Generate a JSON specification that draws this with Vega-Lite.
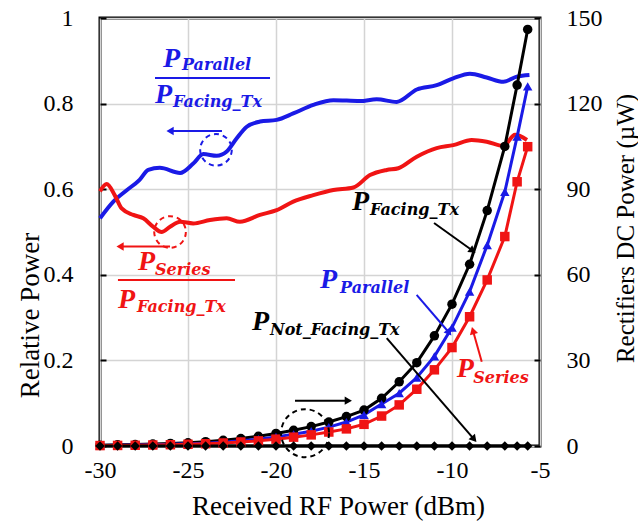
{
  "$schema": "https://vega.github.io/schema/vega-lite/v6.json",
  "width": 440,
  "height": 428,
  "autosize": {"type": "none"},
  "padding": {"left": 100, "top": 18, "right": 98, "bottom": 79},
  "background": "white",
  "config": {
    "view": {"stroke": "black", "strokeWidth": 3},
    "axis": {
      "labelFont": "serif",
      "titleFont": "serif",
      "labelFontSize": 24,
      "titleFontSize": 25,
      "titleFontWeight": "normal",
      "labelColor": "black",
      "titleColor": "black",
      "labelFlush": false,
      "domain": false,
      "gridColor": "#d4d4d4",
      "gridWidth": 1.5
    }
  },
  "datasets": {
    "rel": [
      {"x": -30, "r": 0.532, "s": "Parallel"},
      {"x": -29.24, "r": 0.571, "s": "Parallel"},
      {"x": -28.5, "r": 0.597, "s": "Parallel"},
      {"x": -27.75, "r": 0.622, "s": "Parallel"},
      {"x": -27.26, "r": 0.645, "s": "Parallel"},
      {"x": -26.6, "r": 0.65, "s": "Parallel"},
      {"x": -25.45, "r": 0.638, "s": "Parallel"},
      {"x": -24.7, "r": 0.66, "s": "Parallel"},
      {"x": -24.13, "r": 0.682, "s": "Parallel"},
      {"x": -23.37, "r": 0.678, "s": "Parallel"},
      {"x": -22.8, "r": 0.688, "s": "Parallel"},
      {"x": -22.23, "r": 0.719, "s": "Parallel"},
      {"x": -21.66, "r": 0.746, "s": "Parallel"},
      {"x": -20.91, "r": 0.758, "s": "Parallel"},
      {"x": -19.96, "r": 0.762, "s": "Parallel"},
      {"x": -19.02, "r": 0.777, "s": "Parallel"},
      {"x": -17.88, "r": 0.797, "s": "Parallel"},
      {"x": -16.74, "r": 0.808, "s": "Parallel"},
      {"x": -15.23, "r": 0.806, "s": "Parallel"},
      {"x": -14.28, "r": 0.81, "s": "Parallel"},
      {"x": -13.14, "r": 0.804, "s": "Parallel"},
      {"x": -12.0, "r": 0.833, "s": "Parallel"},
      {"x": -10.87, "r": 0.843, "s": "Parallel"},
      {"x": -9.93, "r": 0.859, "s": "Parallel"},
      {"x": -8.98, "r": 0.87, "s": "Parallel"},
      {"x": -8.03, "r": 0.861, "s": "Parallel"},
      {"x": -7.08, "r": 0.851, "s": "Parallel"},
      {"x": -6.32, "r": 0.863, "s": "Parallel"},
      {"x": -5.6, "r": 0.867, "s": "Parallel"},
      {"x": -30, "r": 0.595, "s": "Series"},
      {"x": -29.62, "r": 0.612, "s": "Series"},
      {"x": -29.15, "r": 0.585, "s": "Series"},
      {"x": -28.77, "r": 0.555, "s": "Series"},
      {"x": -28.11, "r": 0.54, "s": "Series"},
      {"x": -27.54, "r": 0.532, "s": "Series"},
      {"x": -26.97, "r": 0.512, "s": "Series"},
      {"x": -26.5, "r": 0.5, "s": "Series"},
      {"x": -26.02, "r": 0.512, "s": "Series"},
      {"x": -25.45, "r": 0.524, "s": "Series"},
      {"x": -24.7, "r": 0.52, "s": "Series"},
      {"x": -23.75, "r": 0.528, "s": "Series"},
      {"x": -22.8, "r": 0.532, "s": "Series"},
      {"x": -22.05, "r": 0.524, "s": "Series"},
      {"x": -20.91, "r": 0.54, "s": "Series"},
      {"x": -19.96, "r": 0.551, "s": "Series"},
      {"x": -19.02, "r": 0.571, "s": "Series"},
      {"x": -17.88, "r": 0.586, "s": "Series"},
      {"x": -16.74, "r": 0.598, "s": "Series"},
      {"x": -15.6, "r": 0.604, "s": "Series"},
      {"x": -14.66, "r": 0.633, "s": "Series"},
      {"x": -13.71, "r": 0.645, "s": "Series"},
      {"x": -13.05, "r": 0.649, "s": "Series"},
      {"x": -12.0, "r": 0.676, "s": "Series"},
      {"x": -10.87, "r": 0.696, "s": "Series"},
      {"x": -9.93, "r": 0.703, "s": "Series"},
      {"x": -8.88, "r": 0.715, "s": "Series"},
      {"x": -8.03, "r": 0.711, "s": "Series"},
      {"x": -7.08, "r": 0.701, "s": "Series"},
      {"x": -6.42, "r": 0.727, "s": "Series"},
      {"x": -5.74, "r": 0.715, "s": "Series"}
    ],
    "dc": [
      {"x": -30, "p": 0.3, "s": "Facing"}, {"x": -29, "p": 0.4, "s": "Facing"}, {"x": -28, "p": 0.5, "s": "Facing"},
      {"x": -27, "p": 0.7, "s": "Facing"}, {"x": -26, "p": 0.9, "s": "Facing"}, {"x": -25, "p": 1.1, "s": "Facing"},
      {"x": -24, "p": 1.5, "s": "Facing"}, {"x": -23, "p": 2.0, "s": "Facing"}, {"x": -22, "p": 2.6, "s": "Facing"},
      {"x": -21, "p": 3.4, "s": "Facing"}, {"x": -20, "p": 4.4, "s": "Facing"}, {"x": -19, "p": 5.5, "s": "Facing"},
      {"x": -18, "p": 6.8, "s": "Facing"}, {"x": -17, "p": 8.4, "s": "Facing"}, {"x": -16, "p": 10.3, "s": "Facing"},
      {"x": -15, "p": 12.6, "s": "Facing"}, {"x": -14, "p": 16.7, "s": "Facing"}, {"x": -13, "p": 22.5, "s": "Facing"},
      {"x": -12, "p": 29.2, "s": "Facing"}, {"x": -11, "p": 38.6, "s": "Facing"}, {"x": -10, "p": 49.7, "s": "Facing"},
      {"x": -9, "p": 63.7, "s": "Facing"}, {"x": -8, "p": 82.5, "s": "Facing"}, {"x": -7, "p": 105, "s": "Facing"},
      {"x": -6.3, "p": 126.5, "s": "Facing"}, {"x": -5.7, "p": 146, "s": "Facing"},
      {"x": -30, "p": 0.2, "s": "Parallel"}, {"x": -29, "p": 0.3, "s": "Parallel"}, {"x": -28, "p": 0.35, "s": "Parallel"},
      {"x": -27, "p": 0.45, "s": "Parallel"}, {"x": -26, "p": 0.6, "s": "Parallel"}, {"x": -25, "p": 0.75, "s": "Parallel"},
      {"x": -24, "p": 1.0, "s": "Parallel"}, {"x": -23, "p": 1.35, "s": "Parallel"}, {"x": -22, "p": 1.8, "s": "Parallel"},
      {"x": -21, "p": 2.4, "s": "Parallel"}, {"x": -20, "p": 3.2, "s": "Parallel"}, {"x": -19, "p": 4.1, "s": "Parallel"},
      {"x": -18, "p": 5.2, "s": "Parallel"}, {"x": -17, "p": 6.6, "s": "Parallel"}, {"x": -16, "p": 8.4, "s": "Parallel"},
      {"x": -15, "p": 10.9, "s": "Parallel"}, {"x": -14, "p": 14.7, "s": "Parallel"}, {"x": -13, "p": 18.5, "s": "Parallel"},
      {"x": -12, "p": 24.0, "s": "Parallel"}, {"x": -11, "p": 31.4, "s": "Parallel"}, {"x": -10, "p": 41.5, "s": "Parallel"},
      {"x": -9, "p": 54.1, "s": "Parallel"}, {"x": -8, "p": 70.4, "s": "Parallel"}, {"x": -7, "p": 89.1, "s": "Parallel"},
      {"x": -6.3, "p": 108.4, "s": "Parallel"}, {"x": -5.7, "p": 126, "s": "Parallel"},
      {"x": -30, "p": 0.15, "s": "Series"}, {"x": -29, "p": 0.2, "s": "Series"}, {"x": -28, "p": 0.25, "s": "Series"},
      {"x": -27, "p": 0.35, "s": "Series"}, {"x": -26, "p": 0.45, "s": "Series"}, {"x": -25, "p": 0.6, "s": "Series"},
      {"x": -24, "p": 0.8, "s": "Series"}, {"x": -23, "p": 1.05, "s": "Series"}, {"x": -22, "p": 1.4, "s": "Series"},
      {"x": -21, "p": 1.8, "s": "Series"}, {"x": -20, "p": 2.4, "s": "Series"}, {"x": -19, "p": 3.1, "s": "Series"},
      {"x": -18, "p": 3.9, "s": "Series"}, {"x": -17, "p": 4.9, "s": "Series"}, {"x": -16, "p": 6.0, "s": "Series"},
      {"x": -15, "p": 7.6, "s": "Series"}, {"x": -14, "p": 10.5, "s": "Series"}, {"x": -13, "p": 14.4, "s": "Series"},
      {"x": -12, "p": 19.9, "s": "Series"}, {"x": -11, "p": 26.7, "s": "Series"}, {"x": -10, "p": 34.5, "s": "Series"},
      {"x": -9, "p": 45.3, "s": "Series"}, {"x": -8, "p": 58.2, "s": "Series"}, {"x": -7, "p": 73.4, "s": "Series"},
      {"x": -6.3, "p": 92.6, "s": "Series"}, {"x": -5.7, "p": 104.9, "s": "Series"},
      {"x": -30, "p": 0, "s": "NotFacing"}, {"x": -29, "p": 0, "s": "NotFacing"}, {"x": -28, "p": 0, "s": "NotFacing"},
      {"x": -27, "p": 0, "s": "NotFacing"}, {"x": -26, "p": 0, "s": "NotFacing"}, {"x": -25, "p": 0, "s": "NotFacing"},
      {"x": -24, "p": 0, "s": "NotFacing"}, {"x": -23, "p": 0, "s": "NotFacing"}, {"x": -22, "p": 0, "s": "NotFacing"},
      {"x": -21, "p": 0, "s": "NotFacing"}, {"x": -20, "p": 0, "s": "NotFacing"}, {"x": -19, "p": 0, "s": "NotFacing"},
      {"x": -18, "p": 0, "s": "NotFacing"}, {"x": -17, "p": 0, "s": "NotFacing"}, {"x": -16, "p": 0, "s": "NotFacing"},
      {"x": -15, "p": 0, "s": "NotFacing"}, {"x": -14, "p": 0, "s": "NotFacing"}, {"x": -13, "p": 0, "s": "NotFacing"},
      {"x": -12, "p": 0, "s": "NotFacing"}, {"x": -11, "p": 0, "s": "NotFacing"}, {"x": -10, "p": 0, "s": "NotFacing"},
      {"x": -9, "p": 0, "s": "NotFacing"}, {"x": -8, "p": 0, "s": "NotFacing"}, {"x": -7, "p": 0, "s": "NotFacing"},
      {"x": -6.3, "p": 0, "s": "NotFacing"}, {"x": -5.7, "p": 0, "s": "NotFacing"}
    ],
    "labels": [
      {"x": -26.42, "y": 0.886, "text": "P", "part": "P", "grp": "par"},
      {"x": -25.34, "y": 0.879, "text": "Parallel", "part": "sub", "grp": "par"},
      {"x": -26.875, "y": 0.801, "text": "P", "part": "P", "grp": "par"},
      {"x": -25.85, "y": 0.792, "text": "Facing_Tx", "part": "sub", "grp": "par"},
      {"x": -27.84, "y": 0.411, "text": "P", "part": "P", "grp": "ser"},
      {"x": -26.875, "y": 0.4, "text": "Series", "part": "sub", "grp": "ser"},
      {"x": -28.98, "y": 0.322, "text": "P", "part": "P", "grp": "ser"},
      {"x": -27.9, "y": 0.313, "text": "Facing_Tx", "part": "sub", "grp": "ser"},
      {"x": -15.68, "y": 0.551, "text": "P", "part": "P", "grp": "fac"},
      {"x": -14.66, "y": 0.54, "text": "Facing_Tx", "part": "sub", "grp": "fac"},
      {"x": -17.5, "y": 0.369, "text": "P", "part": "P", "grp": "par"},
      {"x": -16.36, "y": 0.357, "text": "Parallel", "part": "sub", "grp": "par"},
      {"x": -21.36, "y": 0.271, "text": "P", "part": "P", "grp": "fac"},
      {"x": -20.34, "y": 0.259, "text": "Not_Facing_Tx", "part": "sub", "grp": "fac"},
      {"x": -9.73, "y": 0.161, "text": "P", "part": "P", "grp": "ser"},
      {"x": -8.79, "y": 0.147, "text": "Series", "part": "sub", "grp": "ser"}
    ],
    "fracs": [
      {"x": -26.875, "xe": -20.34, "y": 0.86, "grp": "par"},
      {"x": -28.98, "xe": -22.33, "y": 0.388, "grp": "ser"}
    ],
    "arrows": [
      {"id": "A", "x": -23.07, "y": 0.736, "xe": -26.02, "ye": 0.736, "grp": "par"},
      {"id": "B", "x": -26.02, "y": 0.466, "xe": -28.86, "ye": 0.466, "grp": "ser"},
      {"id": "C", "x": -11.02, "y": 0.521, "xe": -8.88, "ye": 0.458, "grp": "fac"},
      {"id": "D", "x": -12.01, "y": 0.353, "xe": -10.21, "ye": 0.267, "grp": "par"},
      {"id": "E", "x": -13.71, "y": 0.252, "xe": -8.79, "ye": 0.018, "grp": "fac"},
      {"id": "F", "x": -8.31, "y": 0.197, "xe": -8.79, "ye": 0.267, "grp": "ser"},
      {"id": "G", "x": -18.92, "y": 0.106, "xe": -15.89, "ye": 0.106, "grp": "fac"}
    ],
    "circles": [
      {"id": "A", "x": -23.41, "y": 0.692, "grp": "par"},
      {"id": "B", "x": -26.02, "y": 0.5, "grp": "ser"},
      {"id": "G", "x": -18.35, "y": 0.03, "grp": "fac"}
    ]
  },
  "layer": [
    {
      "data": {"name": "rel"},
      "mark": {"type": "line", "strokeWidth": 4, "interpolate": "monotone"},
      "encoding": {
        "x": {
          "field": "x", "type": "quantitative",
          "scale": {"domain": [-30, -5], "nice": false, "zero": false},
          "axis": {
            "title": "Received RF Power (dBm)",
            "labelFont": "serif",
            "titleFont": "serif",
            "labelFontSize": 24,
            "titleFontSize": 27,
            "values": [-30, -25, -20, -15, -10, -5],
            "labelExpr": "'' + datum.value",
            "ticks": false,
            "labelPadding": 12,
            "grid": true,
            "titleX": 238,
            "titleY": 60,
            "titleBaseline": "middle"
          }
        },
        "y": {
          "field": "r", "type": "quantitative",
          "scale": {"domain": [0, 1], "nice": false},
          "axis": {
            "title": "Relative Power",
            "labelFont": "serif",
            "titleFont": "serif",
            "labelFontSize": 24,
            "titleFontSize": 27,
            "orient": "left",
            "values": [0, 0.2, 0.4, 0.6, 0.8, 1],
            "labelExpr": "'' + datum.value",
            "tickSize": -6,
            "tickWidth": 2,
            "tickColor": "black",
            "labelPadding": 33,
            "grid": true,
            "titleAngle": -90,
            "titleX": -70,
            "titleY": 297,
            "titleAlign": "center",
            "titleBaseline": "middle"
          }
        },
        "color": {
          "field": "s", "type": "nominal",
          "scale": {"domain": ["Parallel", "Series"], "range": ["#1a1ae6", "#f01414"]},
          "legend": null
        }
      }
    },
    {
      "data": {"name": "dc"},
      "layer": [
        {
          "mark": {"type": "line", "strokeWidth": 3},
          "encoding": {
            "x": {"field": "x", "type": "quantitative"},
            "y": {
              "field": "p", "type": "quantitative",
              "scale": {"domain": [0, 150], "nice": false},
              "axis": {
                "title": "Rectifiers DC Power (µW)",
                "labelFont": "serif",
                "titleFont": "serif",
                "labelFontSize": 24,
                "titleFontSize": 25,
                "orient": "right",
                "values": [0, 30, 60, 90, 120, 150],
                "tickSize": -6,
                "tickWidth": 2,
                "tickColor": "black",
                "labelPadding": 32,
                "grid": false,
                "titleAngle": -90,
                "titleX": 85,
                "titleY": 210,
                "titleAlign": "center",
                "titleBaseline": "middle"
              }
            },
            "color": {
              "field": "s", "type": "nominal",
              "scale": {"domain": ["Facing", "NotFacing", "Parallel", "Series"], "range": ["black", "black", "#1a1ae6", "#f01414"]},
              "legend": null
            }
          }
        },
        {
          "mark": {"type": "point", "filled": true, "opacity": 1, "size": 90},
          "encoding": {
            "x": {"field": "x", "type": "quantitative"},
            "y": {"field": "p", "type": "quantitative"},
            "color": {"field": "s", "type": "nominal", "legend": null},
            "shape": {
              "field": "s", "type": "nominal",
              "scale": {"domain": ["Facing", "NotFacing", "Parallel", "Series"], "range": ["circle", "diamond", "triangle-up", "square"]},
              "legend": null
            }
          }
        }
      ]
    },
    {
      "layer": [
        {
          "data": {"name": "fracs"},
          "mark": {"type": "rule", "strokeWidth": 2},
          "encoding": {
            "x": {"field": "x", "type": "quantitative"},
            "x2": {"field": "xe"},
            "y": {"field": "y", "type": "quantitative", "scale": {"domain": [0, 1], "nice": false}, "axis": null},
            "color": {"field": "grp", "type": "nominal", "scale": {"domain": ["fac", "par", "ser"], "range": ["black", "#1a1ae6", "#f01414"]}, "legend": null}
          }
        },
        {
          "data": {"name": "arrows"},
          "mark": {"type": "rule", "strokeWidth": 2},
          "encoding": {
            "x": {"field": "x", "type": "quantitative"},
            "x2": {"field": "xe"},
            "y": {"field": "y", "type": "quantitative"},
            "y2": {"field": "ye"},
            "color": {"field": "grp", "type": "nominal", "legend": null}
          }
        },
        {
          "data": {"name": "arrows"},
          "transform": [{"filter": "datum.id == 'A' || datum.id == 'B'"}],
          "mark": {"type": "point", "shape": "triangle-left", "filled": true, "opacity": 1, "size": 70},
          "encoding": {
            "x": {"field": "xe", "type": "quantitative"},
            "y": {"field": "ye", "type": "quantitative"},
            "color": {"field": "grp", "type": "nominal", "legend": null}
          }
        },
        {
          "data": {"name": "arrows"},
          "transform": [{"filter": "datum.id == 'G'"}],
          "mark": {"type": "point", "shape": "triangle-right", "filled": true, "opacity": 1, "size": 70},
          "encoding": {
            "x": {"field": "xe", "type": "quantitative"},
            "y": {"field": "ye", "type": "quantitative"},
            "color": {"field": "grp", "type": "nominal", "legend": null}
          }
        },
        {
          "data": {"name": "arrows"},
          "transform": [{"filter": "datum.id == 'C'"}],
          "mark": {"type": "point", "shape": "triangle", "angle": 126, "filled": true, "opacity": 1, "size": 70},
          "encoding": {
            "x": {"field": "xe", "type": "quantitative"},
            "y": {"field": "ye", "type": "quantitative"},
            "color": {"field": "grp", "type": "nominal", "legend": null}
          }
        },
        {
          "data": {"name": "arrows"},
          "transform": [{"filter": "datum.id == 'D' || datum.id == 'E'"}],
          "mark": {"type": "point", "shape": "triangle", "angle": 140, "filled": true, "opacity": 1, "size": 70},
          "encoding": {
            "x": {"field": "xe", "type": "quantitative"},
            "y": {"field": "ye", "type": "quantitative"},
            "color": {"field": "grp", "type": "nominal", "legend": null}
          }
        },
        {
          "data": {"name": "arrows"},
          "transform": [{"filter": "datum.id == 'F'"}],
          "mark": {"type": "point", "shape": "triangle", "angle": 344, "filled": true, "opacity": 1, "size": 70},
          "encoding": {
            "x": {"field": "xe", "type": "quantitative"},
            "y": {"field": "ye", "type": "quantitative"},
            "color": {"field": "grp", "type": "nominal", "legend": null}
          }
        },
        {
          "data": {"name": "circles"},
          "transform": [{"filter": "datum.id != 'G'"}],
          "mark": {"type": "point", "shape": "circle", "filled": false, "opacity": 1, "size": 1000, "strokeWidth": 2, "strokeDash": [5, 4]},
          "encoding": {
            "x": {"field": "x", "type": "quantitative"},
            "y": {"field": "y", "type": "quantitative"},
            "color": {"field": "grp", "type": "nominal", "legend": null}
          }
        },
        {
          "data": {"name": "circles"},
          "transform": [{"filter": "datum.id == 'G'"}],
          "mark": {"type": "point", "shape": "circle", "filled": false, "opacity": 1, "size": 2300, "strokeWidth": 2, "strokeDash": [5, 4]},
          "encoding": {
            "x": {"field": "x", "type": "quantitative"},
            "y": {"field": "y", "type": "quantitative"},
            "color": {"field": "grp", "type": "nominal", "legend": null}
          }
        },
        {
          "data": {"name": "labels"},
          "transform": [{"filter": "datum.part == 'P'"}],
          "mark": {"type": "text", "font": "serif", "fontStyle": "italic", "fontWeight": "bold", "fontSize": 28, "align": "left", "baseline": "alphabetic"},
          "encoding": {
            "x": {"field": "x", "type": "quantitative"},
            "y": {"field": "y", "type": "quantitative"},
            "text": {"field": "text"},
            "color": {"field": "grp", "type": "nominal", "legend": null}
          }
        },
        {
          "data": {"name": "labels"},
          "transform": [{"filter": "datum.part == 'sub'"}],
          "mark": {"type": "text", "font": "DejaVu Serif", "fontStyle": "italic", "fontWeight": "bold", "fontSize": 16, "align": "left", "baseline": "alphabetic"},
          "encoding": {
            "x": {"field": "x", "type": "quantitative"},
            "y": {"field": "y", "type": "quantitative"},
            "text": {"field": "text"},
            "color": {"field": "grp", "type": "nominal", "legend": null}
          }
        }
      ]
    }
  ],
  "resolve": {"scale": {"y": "independent", "color": "independent", "shape": "independent"}}
}
